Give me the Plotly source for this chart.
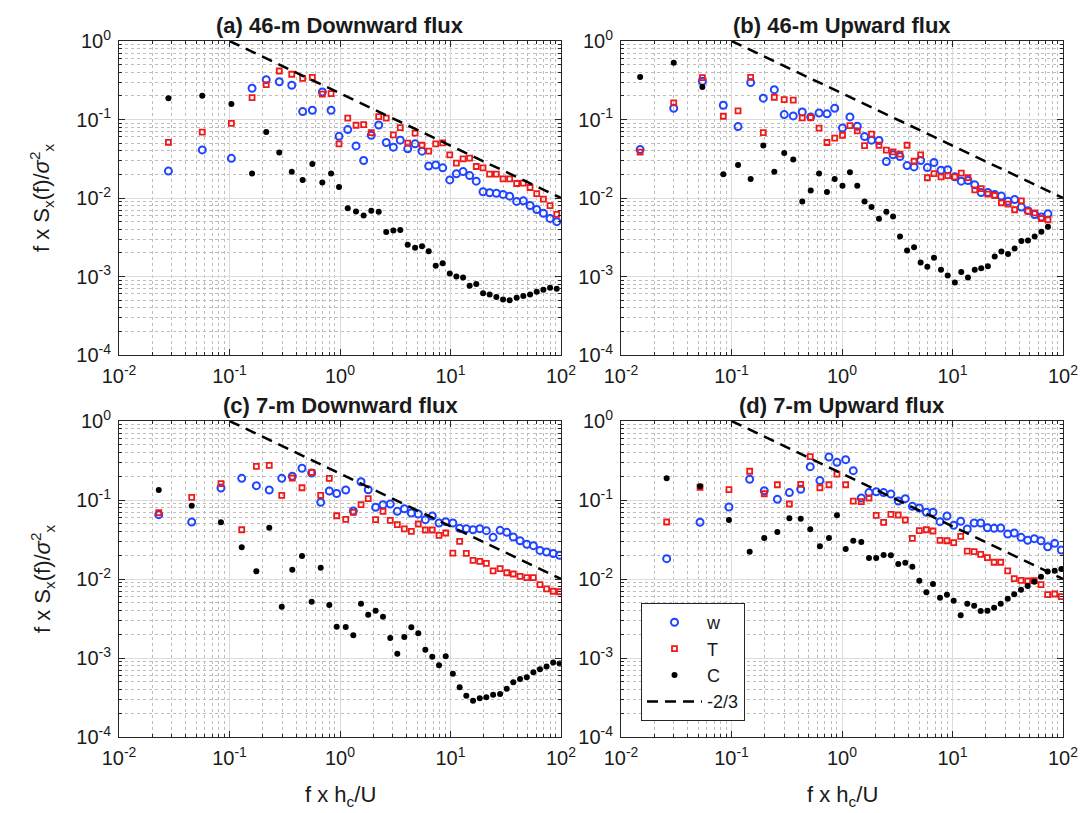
import plotly.graph_objects as go

# ---------------- data ----------------
a_x = [0.028, 0.0567, 0.104, 0.16, 0.215, 0.282, 0.366, 0.459, 0.562, 0.692, 0.83, 0.98, 1.175, 1.396, 1.637, 1.92, 2.24, 2.62, 3.04, 3.51, 4.1, 4.78, 5.52, 6.35, 7.35, 8.5, 9.85, 11.3, 13.0, 14.9, 17.1, 19.7, 22.6, 26.0, 29.9, 34.3, 39.7, 45.6, 52.5, 60.3, 69.3, 79.6, 91.5]
a_w = [0.022, 0.041, 0.032, 0.25, 0.322, 0.303, 0.273, 0.126, 0.131, 0.224, 0.131, 0.061, 0.0744, 0.0461, 0.030, 0.063, 0.085, 0.051, 0.0444, 0.0545, 0.0423, 0.049, 0.0395, 0.0255, 0.0264, 0.0242, 0.017, 0.0203, 0.0217, 0.0193, 0.0164, 0.012, 0.01165, 0.0115, 0.0111, 0.01056, 0.00904, 0.0092, 0.00803, 0.00714, 0.0064, 0.0055, 0.0050]
a_T = [0.051, 0.069, 0.089, 0.19, 0.278, 0.415, 0.377, 0.335, 0.345, 0.21, 0.214, 0.049, 0.104, 0.0845, 0.086, 0.068, 0.109, 0.104, 0.0637, 0.0789, 0.0499, 0.067, 0.047, 0.0395, 0.049, 0.0504, 0.0355, 0.0278, 0.0315, 0.0322, 0.0252, 0.0242, 0.0201, 0.0201, 0.0175, 0.0175, 0.0153, 0.01545, 0.0136, 0.0114, 0.0097, 0.0080, 0.0062]
a_C = [0.187, 0.2, 0.158, 0.0205, 0.0695, 0.038, 0.0216, 0.017, 0.0272, 0.0158, 0.0205, 0.0138, 0.00743, 0.00674, 0.006, 0.0069, 0.0067, 0.0037, 0.00386, 0.0039, 0.00254, 0.00232, 0.00242, 0.00209, 0.00137, 0.00148, 0.00109, 0.001, 0.00097, 0.00076, 0.0008, 0.00061, 0.00059, 0.00055, 0.00051, 0.000497, 0.000537, 0.000565, 0.00059, 0.00064, 0.00068, 0.00072, 0.0007]

b_x = [0.0149, 0.030, 0.0545, 0.0843, 0.1146, 0.149, 0.194, 0.244, 0.30, 0.362, 0.437, 0.521, 0.62, 0.731, 0.859, 1.01, 1.18, 1.375, 1.6, 1.85, 2.16, 2.52, 2.9, 3.35, 3.88, 4.49, 5.15, 5.92, 6.8, 7.87, 9.05, 10.5, 12.0, 13.8, 15.9, 18.2, 20.9, 24.1, 27.7, 31.8, 36.5, 42.0, 48.2, 55.4, 63.7, 73.1]
b_w = [0.0414, 0.139, 0.307, 0.152, 0.0813, 0.295, 0.187, 0.24, 0.1155, 0.111, 0.125, 0.108, 0.121, 0.118, 0.139, 0.078, 0.108, 0.082, 0.0606, 0.0545, 0.054, 0.0292, 0.0355, 0.0337, 0.0259, 0.0249, 0.030, 0.0244, 0.0283, 0.0226, 0.0229, 0.0186, 0.0164, 0.0167, 0.0147, 0.01175, 0.01175, 0.0111, 0.01057, 0.0091, 0.00957, 0.00766, 0.0069, 0.00616, 0.00571, 0.00629]
b_T = [0.0384, 0.163, 0.341, 0.110, 0.1286, 0.345, 0.068, 0.192, 0.179, 0.177, 0.105, 0.106, 0.0775, 0.0509, 0.0578, 0.063, 0.0837, 0.0716, 0.0466, 0.065, 0.047, 0.0407, 0.0387, 0.0362, 0.047, 0.0294, 0.0355, 0.0181, 0.0205, 0.0186, 0.0193, 0.0186, 0.0207, 0.0182, 0.0127, 0.0132, 0.0112, 0.01076, 0.0087, 0.00836, 0.00708, 0.0092, 0.0068, 0.00648, 0.00548, 0.00528]
b_C = [0.348, 0.53, 0.26, 0.0201, 0.0264, 0.0175, 0.0466, 0.0216, 0.0373, 0.031, 0.009, 0.0125, 0.0205, 0.0119, 0.0175, 0.0143, 0.0213, 0.0143, 0.009, 0.0077, 0.00543, 0.00667, 0.00582, 0.00324, 0.00215, 0.00235, 0.00151, 0.00133, 0.00173, 0.00122, 0.00103, 0.00084, 0.00114, 0.00097, 0.00122, 0.00127, 0.00135, 0.0018, 0.00208, 0.00193, 0.00228, 0.00283, 0.00288, 0.00324, 0.00372, 0.0043]

c_x = [0.0229, 0.0455, 0.0837, 0.129, 0.175, 0.229, 0.297, 0.37, 0.453, 0.554, 0.669, 0.8, 0.933, 1.127, 1.32, 1.55, 1.8, 2.1, 2.45, 2.85, 3.3, 3.82, 4.42, 5.11, 5.92, 6.84, 7.87, 9.05, 10.5, 12.1, 13.9, 16.0, 18.4, 21.1, 24.3, 28.1, 32.3, 37.0, 42.6, 49.0, 56.2, 64.5, 74.0, 85.0, 97.0]
c_w = [0.0652, 0.0527, 0.142, 0.188, 0.152, 0.134, 0.188, 0.2, 0.252, 0.22, 0.0934, 0.13, 0.121, 0.134, 0.0726, 0.17, 0.135, 0.0808, 0.0872, 0.089, 0.0719, 0.0776, 0.0685, 0.0665, 0.0564, 0.0627, 0.0512, 0.0532, 0.0512, 0.0438, 0.0434, 0.042, 0.0434, 0.0409, 0.0337, 0.0413, 0.039, 0.034, 0.0305, 0.0275, 0.0264, 0.023, 0.022, 0.021, 0.020]
c_T = [0.069, 0.108, 0.161, 0.042, 0.267, 0.275, 0.1146, 0.19, 0.143, 0.224, 0.1146, 0.188, 0.0632, 0.057, 0.0699, 0.0872, 0.104, 0.0564, 0.0719, 0.0553, 0.0487, 0.043, 0.0401, 0.0497, 0.0417, 0.0417, 0.0357, 0.0382, 0.0213, 0.030, 0.0211, 0.0172, 0.0167, 0.0158, 0.0127, 0.0135, 0.012, 0.01157, 0.0108, 0.0104, 0.0104, 0.0085, 0.0075, 0.0070, 0.0069]
c_C = [0.134, 0.0847, 0.0522, 0.0252, 0.0125, 0.0446, 0.00447, 0.0131, 0.0195, 0.00516, 0.0139, 0.00469, 0.00249, 0.00247, 0.00194, 0.00487, 0.00353, 0.00397, 0.00333, 0.00179, 0.00113, 0.00184, 0.00245, 0.00205, 0.00127, 0.00104, 0.00081, 0.00105, 0.00063, 0.000425, 0.000333, 0.000288, 0.000309, 0.000318, 0.000343, 0.00035, 0.000408, 0.000492, 0.000542, 0.000569, 0.00066, 0.00072, 0.00078, 0.00088, 0.00085]

d_x = [0.0259, 0.0519, 0.0948, 0.146, 0.198, 0.26, 0.334, 0.423, 0.516, 0.631, 0.762, 0.9, 1.08, 1.265, 1.495, 1.755, 2.04, 2.38, 2.77, 3.23, 3.74, 4.33, 5.01, 5.8, 6.66, 7.71, 8.91, 10.25, 11.86, 13.6, 15.7, 18.0, 20.7, 23.8, 27.3, 31.6, 36.2, 41.7, 47.9, 55.0, 63.2, 72.6, 84.1, 96.6]
d_w = [0.0181, 0.0522, 0.0815, 0.183, 0.131, 0.102, 0.124, 0.137, 0.264, 0.176, 0.35, 0.3, 0.324, 0.235, 0.106, 0.124, 0.127, 0.124, 0.119, 0.097, 0.104, 0.0832, 0.0792, 0.0699, 0.0699, 0.0532, 0.0627, 0.0478, 0.0537, 0.043, 0.0512, 0.0512, 0.0446, 0.0438, 0.0442, 0.0371, 0.0382, 0.0337, 0.0309, 0.0324, 0.0305, 0.0256, 0.0283, 0.0233]
d_T = [0.0527, 0.145, 0.135, 0.231, 0.12, 0.156, 0.089, 0.158, 0.354, 0.143, 0.156, 0.213, 0.156, 0.097, 0.0952, 0.106, 0.064, 0.0522, 0.0659, 0.0646, 0.0558, 0.0327, 0.0409, 0.042, 0.0405, 0.0309, 0.0305, 0.0288, 0.0347, 0.0226, 0.0222, 0.0205, 0.0186, 0.0163, 0.0163, 0.0127, 0.0101, 0.0096, 0.00944, 0.00952, 0.00847, 0.00633, 0.00646, 0.00597]
d_C = [0.188, 0.149, 0.0558, 0.0222, 0.033, 0.0394, 0.0586, 0.058, 0.0426, 0.026, 0.033, 0.064, 0.024, 0.0305, 0.0294, 0.0185, 0.0185, 0.0201, 0.02, 0.0155, 0.016, 0.0143, 0.00952, 0.00678, 0.00865, 0.0058, 0.00633, 0.00532, 0.00347, 0.00487, 0.00459, 0.00394, 0.00397, 0.00434, 0.00487, 0.00563, 0.0064, 0.00733, 0.00815, 0.00925, 0.0107, 0.0124, 0.0127, 0.0134]

ref_x = [0.1, 100.0]          # -2/3 reference slope line
ref_y = [1.0, 0.01]

panel_titles = ["(a) 46-m Downward flux", "(b) 46-m Upward flux",
                "(c) 7-m Downward flux", "(d) 7-m Upward flux"]
series_names = ["w", "T", "C", "-2/3"]
x_tickvals = [0.01, 0.1, 1, 10, 100]
x_ticktext = ["10<sup>-2</sup>", "10<sup>-1</sup>", "10<sup>0</sup>", "10<sup>1</sup>", "10<sup>2</sup>"]
y_tickvals = [1e-4, 1e-3, 1e-2, 1e-1, 1]
y_ticktext = ["10<sup>-4</sup>", "10<sup>-3</sup>", "10<sup>-2</sup>", "10<sup>-1</sup>", "10<sup>0</sup>"]
x_title = "f x h<sub>c</sub>/U"
y_title = "f x S<sub>x</sub>(f)/<i>σ</i><sup>2</sup><sub>x</sub>"

# ---------------- figure ----------------
W, H = 1089, 813
FONT = "Liberation Sans, Arial, sans-serif"
TXT = "#1a1a1a"
BLUE = "#1f45ff"
RED = "#f01a1a"

# panel boxes in pixels (x0, x1, ytop, ybottom)
boxes = [(111, 553, 33, 347), (613, 1055, 33, 347),
         (111, 553, 413, 729), (613, 1055, 413, 729)]
panels = [(a_x, a_w, a_T, a_C), (b_x, b_w, b_T, b_C),
          (c_x, c_w, c_T, c_C), (d_x, d_w, d_T, d_C)]

fig = go.Figure()
layout = dict(width=W, height=H, margin=dict(l=0, r=0, t=0, b=0, autoexpand=False),
              paper_bgcolor="white", plot_bgcolor="white",
              font=dict(family=FONT, size=20, color=TXT),
              showlegend=True)

annotations = []
for i, (box, (px, pw, pT, pC)) in enumerate(zip(boxes, panels)):
    k = "" if i == 0 else str(i + 1)
    xa, ya = "x" + k, "y" + k
    show = (i == 3)
    fig.add_trace(go.Scatter(x=px, y=pw, mode="markers", name=series_names[0],
                             xaxis=xa, yaxis=ya, showlegend=show, legendgroup="w",
                             marker=dict(symbol="circle-open", size=7, color=BLUE,
                                         line=dict(width=2, color=BLUE))))
    fig.add_trace(go.Scatter(x=px, y=pT, mode="markers", name=series_names[1],
                             xaxis=xa, yaxis=ya, showlegend=show, legendgroup="T",
                             marker=dict(symbol="square-open", size=5, color=RED,
                                         line=dict(width=1.8, color=RED))))
    fig.add_trace(go.Scatter(x=px, y=pC, mode="markers", name=series_names[2],
                             xaxis=xa, yaxis=ya, showlegend=show, legendgroup="C",
                             marker=dict(symbol="circle", size=6, color="black")))
    fig.add_trace(go.Scatter(x=ref_x, y=ref_y, mode="lines", name=series_names[3],
                             xaxis=xa, yaxis=ya, showlegend=show, legendgroup="L",
                             line=dict(color="black", width=2.5, dash="11px,7px")))

    x0, x1, yt, yb = box
    common = dict(type="log", showline=True, linecolor="#262626", linewidth=1,
                  mirror="allticks", ticks="inside", ticklen=6, tickcolor="#262626",
                  showgrid=True, gridcolor="#dcdcdc", gridwidth=1, zeroline=False,
                  automargin=False,
                  tickfont=dict(family=FONT, size=20, color=TXT),
                  tickmode="array",
                  minor=dict(ticks="inside", ticklen=3, tickcolor="#262626",
                             showgrid=True, gridcolor="#bdbdbd", griddash="dot",
                             gridwidth=1, dtick="D1"))
    layout["xaxis" + k] = dict(common, domain=[x0 / W, x1 / W], range=[-2, 2],
                               tickvals=x_tickvals, ticktext=x_ticktext,
                               anchor=ya, ticklabelstandoff=3)
    layout["yaxis" + k] = dict(common, domain=[1 - yb / H, 1 - yt / H], range=[-4, 0],
                               tickvals=y_tickvals, ticktext=y_ticktext,
                               anchor=xa, ticklabelstandoff=3)
    # panel title
    annotations.append(dict(text="<b>" + panel_titles[i] + "</b>", xref="paper", yref="paper",
                            x=(x0 + x1) / 2 / W, y=1 - (yt - 2) / H, xanchor="center",
                            yanchor="bottom", showarrow=False, borderpad=0,
                            font=dict(family=FONT, size=22, color=TXT)))

# x-axis titles (bottom row) and y-axis titles (left column)
for (x0, x1, yt, yb) in (boxes[2], boxes[3]):
    annotations.append(dict(text=x_title, xref="paper", yref="paper",
                            x=(x0 + x1) / 2 / W, y=1 - 788 / H, xanchor="center",
                            yanchor="middle", showarrow=False,
                            font=dict(family=FONT, size=22, color=TXT)))
for (x0, x1, yt, yb) in (boxes[0], boxes[2]):
    annotations.append(dict(text=y_title, xref="paper", yref="paper",
                            x=34 / W, y=1 - (yt + yb) / 2 / H, xanchor="center",
                            yanchor="middle", textangle=-90, showarrow=False,
                            font=dict(family=FONT, size=22, color=TXT)))

layout["annotations"] = annotations
layout["legend"] = dict(x=633 / W, y=1 - 595 / H, xanchor="left", yanchor="top",
                        bgcolor="white", bordercolor="#262626", borderwidth=1,
                        font=dict(family=FONT, size=18, color=TXT),
                        tracegroupgap=0, itemwidth=55)
fig.update_layout(**layout)
fig.write_html("out.html")
